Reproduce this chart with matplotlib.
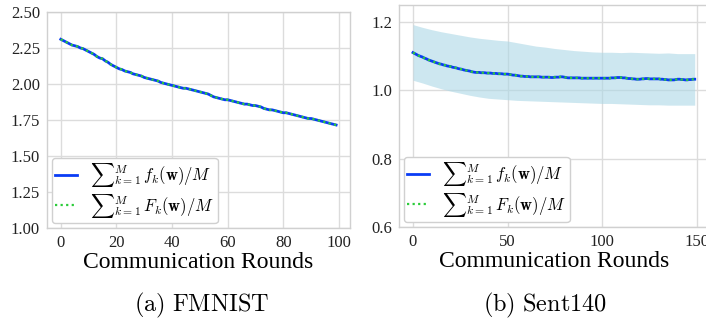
import matplotlib
matplotlib.use("Agg")
import matplotlib.pyplot as plt
import numpy as np

# ---------------- data ----------------
fmnist_rounds = list(range(100))
fmnist_f = [2.31, 2.30, 2.29, 2.28, 2.27, 2.265, 2.26, 2.25, 2.245, 2.235,
            2.225, 2.215, 2.205, 2.19, 2.18, 2.175, 2.16, 2.15, 2.135, 2.125,
            2.115, 2.105, 2.10, 2.09, 2.085, 2.08, 2.07, 2.065, 2.06, 2.055,
            2.045, 2.04, 2.035, 2.03, 2.025, 2.02, 2.01, 2.005, 2.00, 1.995,
            1.99, 1.985, 1.98, 1.975, 1.97, 1.97, 1.965, 1.96, 1.955, 1.95,
            1.945, 1.94, 1.935, 1.93, 1.92, 1.91, 1.905, 1.90, 1.895, 1.89,
            1.89, 1.885, 1.88, 1.875, 1.87, 1.865, 1.86, 1.86, 1.855, 1.85,
            1.85, 1.845, 1.84, 1.83, 1.825, 1.82, 1.82, 1.815, 1.81, 1.805,
            1.80, 1.80, 1.795, 1.79, 1.785, 1.78, 1.775, 1.77, 1.765, 1.76,
            1.76, 1.755, 1.75, 1.745, 1.74, 1.735, 1.73, 1.725, 1.72, 1.715]
fmnist_F = fmnist_f  # the two curves coincide

sent_rounds = list(range(150))
sent_f = [1.111, 1.108, 1.105, 1.102, 1.100, 1.098, 1.095, 1.093, 1.090, 1.088,
          1.086, 1.084, 1.082, 1.080, 1.078, 1.077, 1.075, 1.074, 1.072, 1.071,
          1.070, 1.068, 1.067, 1.066, 1.064, 1.063, 1.062, 1.060, 1.059, 1.058,
          1.057, 1.055, 1.054, 1.053, 1.053, 1.053, 1.052, 1.052, 1.052, 1.051,
          1.051, 1.051, 1.050, 1.050, 1.050, 1.049, 1.049, 1.049, 1.048, 1.048,
          1.048, 1.047, 1.046, 1.045, 1.045, 1.044, 1.043, 1.042, 1.042, 1.041,
          1.041, 1.041, 1.040, 1.040, 1.040, 1.040, 1.040, 1.040, 1.039, 1.039,
          1.039, 1.039, 1.039, 1.038, 1.038, 1.039, 1.039, 1.039, 1.040, 1.040,
          1.039, 1.038, 1.037, 1.037, 1.037, 1.037, 1.037, 1.037, 1.037, 1.036,
          1.036, 1.036, 1.036, 1.036, 1.036, 1.036, 1.036, 1.036, 1.036, 1.036,
          1.036, 1.036, 1.036, 1.036, 1.036, 1.037, 1.037, 1.037, 1.038, 1.038,
          1.038, 1.037, 1.037, 1.036, 1.035, 1.035, 1.034, 1.034, 1.033, 1.033,
          1.033, 1.034, 1.034, 1.035, 1.035, 1.034, 1.034, 1.034, 1.034, 1.034,
          1.034, 1.033, 1.033, 1.032, 1.032, 1.031, 1.031, 1.031, 1.031, 1.032,
          1.033, 1.033, 1.032, 1.032, 1.031, 1.031, 1.032, 1.032, 1.033, 1.033]
sent_F = sent_f  # the two curves coincide

band_rounds = [0, 5, 10, 15, 20, 25, 30, 35, 40, 45, 50, 55, 60, 65, 70, 75,
               80, 85, 90, 95, 100, 105, 110, 115, 120, 125, 130, 135, 140, 145, 149]
band_upper = [1.193, 1.185, 1.178, 1.172, 1.167, 1.162, 1.157, 1.153, 1.150, 1.147,
              1.145, 1.140, 1.135, 1.130, 1.127, 1.123, 1.120, 1.117, 1.115, 1.113,
              1.112, 1.112, 1.111, 1.112, 1.111, 1.110, 1.109, 1.110, 1.108, 1.108, 1.108]
band_lower = [1.030, 1.022, 1.013, 1.005, 0.998, 0.992, 0.986, 0.981, 0.977, 0.975,
              0.973, 0.971, 0.970, 0.969, 0.968, 0.967, 0.966, 0.965, 0.964, 0.963,
              0.962, 0.962, 0.961, 0.960, 0.959, 0.958, 0.958, 0.957, 0.957, 0.957, 0.957]

fmnist_yticks = [1.00, 1.25, 1.50, 1.75, 2.00, 2.25, 2.50]
fmnist_xticks = [0, 20, 40, 60, 80, 100]
sent_yticks = [0.6, 0.8, 1.0, 1.2]
sent_xticks = [0, 50, 100, 150]

label_f = r"${\sum}_{k=1}^{M}\, f_k(\mathbf{w})/M$"
label_F = r"${\sum}_{k=1}^{M}\, F_k(\mathbf{w})/M$"
xlabel = "Communication Rounds"
captions = [r"$\mathrm{(a)\ FMNIST}$", r"$\mathrm{(b)\ Sent140}$"]

# ---------------- style ----------------
plt.rcParams["font.family"] = ["Liberation Serif", "DejaVu Serif"]
plt.rcParams["mathtext.fontset"] = "cm"

BLUE = "#0a3cf5"
GREEN = "#2ccc3a"
BAND = "#add8e6"
GRID = "#dcdcdc"
SPINE = "#d0d0d0"

fig = plt.figure(figsize=(7.06, 3.22), dpi=100)
ax1 = fig.add_axes([0.0666, 0.292, 0.429, 0.671])
ax2 = fig.add_axes([0.565, 0.295, 0.439, 0.689])


def style(ax):
    ax.set_facecolor("white")
    ax.grid(True, color=GRID, linewidth=1.0)
    ax.set_axisbelow(True)
    for s in ax.spines.values():
        s.set_color(SPINE)
        s.set_linewidth(1.0)
    ax.tick_params(length=0, labelsize=12, colors="#222222", pad=5)


# FMNIST
ax1.plot(fmnist_rounds, fmnist_f, color=BLUE, lw=2.0, label=label_f)
ax1.plot(fmnist_rounds, fmnist_F, color=GREEN, lw=1.6, ls=(0, (1, 1.5)), label=label_F)
ax1.set_ylim(1.0, 2.5)
ax1.set_yticks(fmnist_yticks)
ax1.set_yticklabels([f"{v:.2f}" for v in fmnist_yticks])
ax1.set_xticks(fmnist_xticks)
ax1.set_xlim(-4.95, 103.95)
style(ax1)
ax1.set_xlabel(xlabel, fontsize=17, labelpad=1)

# Sent140
ax2.fill_between(band_rounds, band_lower, band_upper, color=BAND, alpha=0.6, lw=0)
ax2.plot(sent_rounds, sent_f, color=BLUE, lw=2.0, label=label_f)
ax2.plot(sent_rounds, sent_F, color=GREEN, lw=1.6, ls=(0, (1, 1.5)), label=label_F)
ax2.set_ylim(0.6, 1.25)
ax2.set_yticks(sent_yticks)
ax2.set_yticklabels([f"{v:.1f}" for v in sent_yticks])
ax2.set_xticks(sent_xticks)
ax2.set_xlim(-7.45, 156.45)
style(ax2)
ax2.set_xlabel(xlabel, fontsize=17, labelpad=1)

for ax in (ax1, ax2):
    leg = ax.legend(loc="lower left", fontsize=12, frameon=True, fancybox=True,
                    handlelength=1.3, handletextpad=0.8, borderpad=0.2,
                    labelspacing=0.15, borderaxespad=0.3)
    leg.get_frame().set_edgecolor("#d0d0d0")
    leg.get_frame().set_linewidth(1.0)
    leg.get_frame().set_alpha(1.0)

fig.text(0.0666 + 0.429 / 2 + 0.005, 0.05, captions[0], ha="center", va="center", fontsize=17.5)
fig.text(0.565 + 0.415 / 2, 0.05, captions[1], ha="center", va="center", fontsize=17.5)

fig.savefig("out.png", dpi=100)
